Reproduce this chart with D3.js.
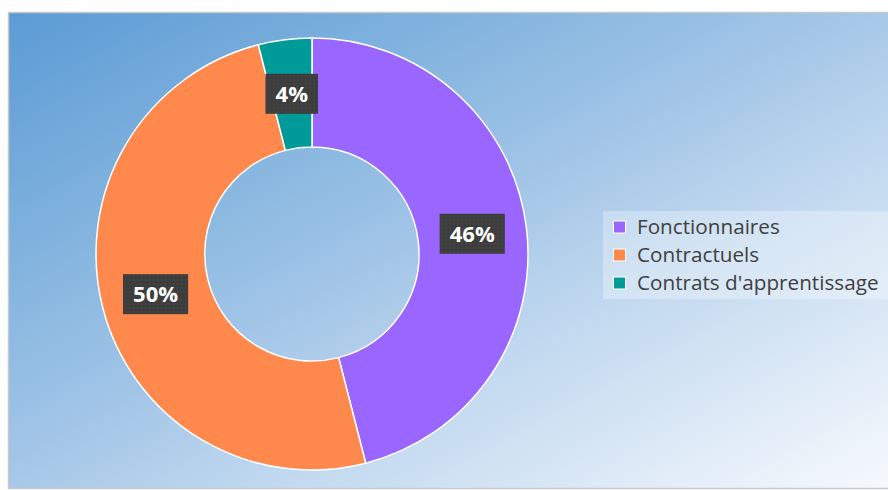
<!DOCTYPE html>
<html><head><meta charset="utf-8">
<script src="https://d3js.org/d3.v7.min.js"></script>
<style>html,body{margin:0;padding:0;background:#fff;}svg{display:block;}</style>
</head><body>
<script>
const categories = ["Fonctionnaires", "Contractuels", "Contrats d'apprentissage"];
const values = [46, 50, 4];
const labels = ["46%", "50%", "4%"];
const colors = ["#9966ff", "#ff884d", "#009a99"];

const W = 888, H = 490;
const svg = d3.select("body").append("svg").attr("width", W).attr("height", H);
const defs = svg.append("defs");
const grad = defs.append("linearGradient").attr("id", "bg")
  .attr("gradientUnits", "userSpaceOnUse")
  .attr("x1", 8).attr("y1", 12).attr("x2", 408).attr("y2", 749);
[[0, "#5b9bd5"], [0.32, "#8ab8e0"], [0.47, "#a2c5e7"], [0.64, "#c0d8ef"], [1, "#f6f9fd"]]
  .forEach(([o, c]) => grad.append("stop").attr("offset", o).attr("stop-color", c));

const pat = defs.append("pattern").attr("id", "dots").attr("patternUnits", "userSpaceOnUse")
  .attr("width", 4).attr("height", 4);
pat.append("rect").attr("width", 4).attr("height", 4).attr("fill", "#3c3c3c");
pat.append("circle").attr("cx", 2).attr("cy", 2).attr("r", 1).attr("fill", "#474747");

svg.append("rect").attr("x", 8.5).attr("y", 12.5).attr("width", 885).attr("height", 476)
  .attr("fill", "url(#bg)").attr("stroke", "#c8c8c8").attr("stroke-width", 1.5);

const cx = 312, cy = 254, R = 216, r = 107;
const pie = d3.pie().sort(null).value(d => d);
const arcs = pie(values);
const arc = d3.arc().outerRadius(R).innerRadius(r);
const mid = d3.arc().outerRadius((R + r) / 2).innerRadius((R + r) / 2);
const g = svg.append("g").attr("transform", `translate(${cx},${cy})`);
g.selectAll("path").data(arcs).join("path")
  .attr("d", arc).attr("fill", (d, i) => colors[i])
  .attr("stroke", "#fff").attr("stroke-width", 1.5);

const lg = g.selectAll("g.lbl").data(arcs).join("g").attr("class", "lbl")
  .attr("transform", d => `translate(${mid.centroid(d)})`);
lg.each(function(d, i) {
  const s = d3.select(this);
  const t = s.append("text").text(labels[i])
    .attr("text-anchor", "middle").attr("dy", "0.36em")
    .attr("font-family", "Open Sans").attr("font-weight", "bold")
    .attr("font-size", 22).attr("fill", "#fff");
  const bb = t.node().getBBox();
  s.insert("rect", "text").attr("x", -bb.width / 2 - 10).attr("y", -20)
    .attr("width", bb.width + 20).attr("height", 40).attr("fill", "url(#dots)");
});

const leg = svg.append("g");
leg.append("rect").attr("x", 603).attr("y", 211).attr("width", 285).attr("height", 88)
  .attr("fill", "#ffffff").attr("fill-opacity", 0.3);
const items = leg.selectAll("g.it").data(categories).join("g").attr("class", "it")
  .attr("transform", (d, i) => `translate(613,${227 + i * 28})`);
items.append("rect").attr("x", 0.5).attr("y", -6).attr("width", 12).attr("height", 12)
  .attr("fill", (d, i) => colors[i]).attr("stroke", "#fff").attr("stroke-width", 1);
items.append("text").attr("x", 24).attr("dy", "0.36em").text(d => d)
  .attr("font-family", "Open Sans").attr("font-size", 20.7).attr("fill", "#404040");
</script>
</body></html>
